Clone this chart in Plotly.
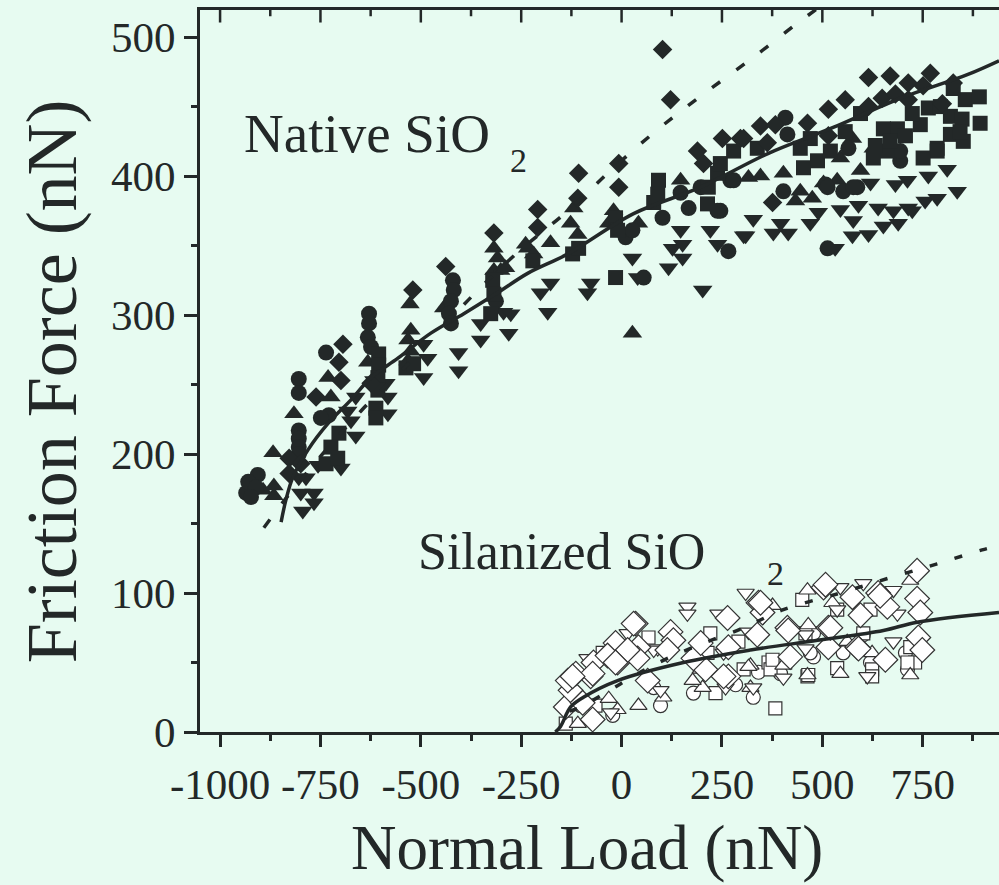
import plotly.graph_objects as go

# ---------------- data (Normal Load nN, Friction Force nN) ----------------
nat_circle_x = [-935,-906,-930,-911,-923,-804,-804,-804,-804,-804,-804,-736,-729,-749,-629,-629,-632,-624,
                -420,-418,-425,-430,-425,-313,10,27,55,102,167,147,197,246,271,266,
                408,413,694,587,552,403,508,565,694,513,577,513,279,239]
nat_circle_y = [172,185,180,176,169,254,244,217,211,205,200,273,228,226,301,294,284,277,
                325,318,310,301,294,310,356,361,327,370,377,388,392,375,397,346,
                442,430,411,392,389,389,394,420,418,348,392,392,397,375]

nat_square_x = [-704,-724,-736,-707,-605,-605,-607,-607,-612,-612,-537,-518,-321,-318,-326,-221,-122,-107,
                -15,-15,-10,92,90,80,214,216,239,246,279,
                856,891,893,819,848,819,851,786,786,751,744,764,687,652,662,595,470,445,488,453,338,627,
                724,707,669,632,520,557,843,794,826]
nat_square_y = [215,205,193,197,272,264,255,246,233,226,262,265,325,315,301,339,344,348,
                370,327,361,397,387,381,380,392,402,409,418,
                455,457,438,443,441,430,425,420,418,413,437,449,434,434,418,445,427,420,411,406,420,413,
                445,429,425,422,418,432,432,450,463]

nat_tup_x = [-893,-866,-866,-868,-816,-731,-724,-632,-527,-525,-532,-525,-532,-443,-318,-309,-318,-301,
             -234,-177,-239,-219,-289,-119,-127,-109,-20,-32,42,147,27,316,
             403,433,475,503,545,575,627,445,537,677,346,595,644]
nat_tup_y = [174,170,177,201,229,255,241,266,308,289,282,274,267,305,348,341,332,332,
             348,352,351,344,334,377,366,358,375,366,366,397,287,399,
             402,382,384,395,413,427,420,389,397,430,400,404,418]

nat_tdn_x = [-804,-786,-799,-766,-794,-766,-682,-662,-662,-674,-699,-756,-587,-582,-582,-617,-493,-483,-493,
             -406,-406,-351,-351,-294,-276,-281,-202,-177,-184,-85,-77,27,40,117,127,147,152,152,
             202,221,239,304,328,378,415,396,309,470,490,545,577,575,615,590,639,652,689,677,714,724,
             756,786,836,811,764,712,682,620,532]
nat_tdn_y = [183,183,172,172,159,165,231,241,213,224,190,192,251,241,229,253,279,269,255,
             273,260,294,282,302,301,287,316,323,302,316,323,341,327,334,348,361,351,341,
             318,361,351,357,369,359,359,366,357,366,374,376,368,357,358,379,377,364,366,375,377,375,
             382,384,389,405,400,397,394,395,348]

nat_dia_x = [-828,-799,-828,-694,-704,-699,-761,-624,-520,-438,-318,-209,-209,-107,-109,-7,-7,189,204,251,296,
             102,122,615,669,714,769,751,826,557,515,463,346,383,304,615,649,682,714,799,363,376,515]
nat_dia_y = [197,193,186,279,266,253,241,251,318,335,359,376,363,402,384,409,392,418,409,427,427,
             491,455,471,472,467,474,465,467,455,448,438,436,437,427,450,456,459,455,452,424,381,429]

sil_dia_x = [-139,-127,-134,-72,-77,-70,-15,-10,35,42,40,65,122,129,114,209,264,266,266,341,351,338,413,420,
             503,515,515,575,595,587,639,662,657,736,744,739,749,254,179,-35,15,-114,-97,
             736,508,644,590,520,415,30,346,-72,-122,-15,197]
sil_dia_y = [18,30,37,9,40,50,64,50,78,61,53,37,72,66,59,45,82,61,40,93,86,70,75,54,
             104,75,61,97,84,61,100,90,52,96,86,68,59,40,53,55,59,42,21,
             116,106,98,60,75,73,78,93,42,40,50,64]

sil_square_x = [67,-47,221,291,366,371,463,537,624,719,731,383,234,304,-65,-139,602,620,537,450,214,458,624,712,465,376]
sil_square_y = [68,57,71,65,50,45,40,46,45,61,50,17,28,45,19,6,71,88,88,95,57,71,40,50,41,52]

sil_circle_x = [179,284,328,97,-22,478,552,620,707,712,602,341,396,478,-102,80,470]
sil_circle_y = [28,34,25,19,12,54,57,50,57,45,70,43,42,71,19,32,57]

sil_tup_x = [463,719,376,525,463,545,624,719,321,321,202,42,-10,104,-32,197,403,562,465,177,316,-109]
sil_tup_y = [102,109,91,93,41,42,57,41,48,32,32,19,16,25,24,45,48,65,77,37,47,6]

sil_tdn_x = [309,164,164,241,545,677,687,612,403,97,-27,-85,15,90,316,458,677,537,353,254,602,458,259,328,80]
sil_tdn_y = [100,90,85,85,104,102,85,40,39,30,14,53,71,60,72,60,65,88,83,57,107,70,32,32,59]

# fit curves
nat_fit_x = [-848,-836,-819,-781,-731,-674,-624,-557,-475,-393,-309,-234,-134,30,197,363,527,694,861,940]
nat_fit_y = [151,167,183,203,222,239,255,269,287,301,316,330,344,373,392,416,435,456,473,483]

nat_lin_x = [-891,-806,-649,-500,-371,-259,-134,-20,92,204,326,438,490]
nat_lin_y = [147,179,231,274,314,345,375,406,434,459,485,510,521]

sil_fit_x = [-165,-152,-127,-95,-10,154,321,488,652,736,940]
sil_fit_y = [0,4,18,25,37,50,59,66,73,79,86]

sil_lin_x = [-130,-102,72,179,304,403,545,669,786,898,940]
sil_lin_y = [15,18,47,61,75,88,100,111,121,131,134]

x_ticks = [-1000, -750, -500, -250, 0, 250, 500, 750]
x_minor = [-875, -625, -375, -125, 125, 375, 625, 875]
y_ticks = [0, 100, 200, 300, 400, 500]
y_minor = [50, 150, 250, 350, 450]

# ---------------- styling ----------------
FONT = "Liberation Serif"
INK = "#232828"
BG = "#e7fbf1"
XR = [-1050, 940]
YR = [0, 519.5]
TOP_MAJOR_LEN = 9.0   # inward tick length on the top frame, in y-units (~12 px)
TOP_MINOR_LEN = 4.5

fig = go.Figure()

def filled(x, y, sym, size):
    fig.add_trace(go.Scatter(x=x, y=y, mode="markers",
                             marker=dict(symbol=sym, size=size, color=INK, line=dict(width=0)),
                             showlegend=False, hoverinfo="skip"))

def hollow(x, y, sym, size):
    fig.add_trace(go.Scatter(x=x, y=y, mode="markers",
                             marker=dict(symbol=sym, size=size, color="white",
                                         line=dict(width=1.2, color="#333333")),
                             showlegend=False, hoverinfo="skip"))

filled(nat_tdn_x, nat_tdn_y, "triangle-down", 17)
filled(nat_tup_x, nat_tup_y, "triangle-up", 17)
filled(nat_circle_x, nat_circle_y, "circle", 16)
filled(nat_square_x, nat_square_y, "square", 15)
filled(nat_dia_x, nat_dia_y, "diamond", 15)

hollow(sil_circle_x, sil_circle_y, "circle", 14)
hollow(sil_square_x, sil_square_y, "square", 13)
hollow(sil_tup_x, sil_tup_y, "triangle-up", 15)
hollow(sil_tdn_x, sil_tdn_y, "triangle-down", 15)
hollow(sil_dia_x, sil_dia_y, "diamond", 19)

def line(x, y, dash, width):
    fig.add_trace(go.Scatter(x=x, y=y, mode="lines", line=dict(color=INK, width=width, dash=dash, shape="spline"),
                             showlegend=False, hoverinfo="skip"))

line(nat_fit_x, nat_fit_y, "solid", 3.5)
line(nat_lin_x, nat_lin_y, "10px,20px", 3.5)
line(sil_fit_x, sil_fit_y, "solid", 3.5)
line(sil_lin_x, sil_lin_y, "8px,18px", 3.5)

# inward ticks along the top frame
def top_ticks(vals, length):
    tx, ty = [], []
    for v in vals:
        tx += [v, v, None]
        ty += [YR[1], YR[1] - length, None]
    fig.add_trace(go.Scatter(x=tx, y=ty, mode="lines", line=dict(color=INK, width=2.5),
                             showlegend=False, hoverinfo="skip"))

top_ticks(x_ticks, TOP_MAJOR_LEN)
top_ticks(x_minor, TOP_MINOR_LEN)

fig.update_layout(
    width=999, height=885,
    margin=dict(l=200, r=0, t=10, b=153),
    paper_bgcolor=BG, plot_bgcolor=BG,
    font=dict(family=FONT, color=INK),
    xaxis=dict(range=XR, tickvals=x_ticks, ticktext=[str(v) for v in x_ticks],
               ticks="outside", ticklen=12, tickwidth=2.5, tickcolor=INK,
               showline=True, linewidth=3, linecolor=INK, showgrid=False, zeroline=False,
               mirror=True,
               tickfont=dict(family=FONT, size=43, color=INK),
               minor=dict(tickvals=x_minor, ticks="outside", ticklen=6, tickwidth=2.5, tickcolor=INK)),
    yaxis=dict(range=YR, tickvals=y_ticks, ticktext=[str(v) for v in y_ticks],
               ticks="outside", ticklen=13, tickwidth=2.5, tickcolor=INK,
               showline=True, linewidth=3, linecolor=INK, showgrid=False, zeroline=False,
               tickfont=dict(family=FONT, size=43, color=INK),
               minor=dict(tickvals=y_minor, ticks="outside", ticklen=6, tickwidth=2.5, tickcolor=INK)),
)

ann = [
    dict(text="Normal Load (nN)", xref="paper", yref="paper", x=0.484, y=-0.161,
         font=dict(size=63), xanchor="center", yanchor="middle"),
    dict(text="Friction Force (nN)", xref="paper", yref="paper", x=-0.185, y=0.486,
         font=dict(size=72), xanchor="center", yanchor="middle", textangle=-90),
    dict(text="Native SiO", xref="x", yref="y", x=-945, y=431, font=dict(size=55),
         xanchor="left", yanchor="middle"),
    dict(text="2", xref="x", yref="y", x=-283, y=411, font=dict(size=34),
         xanchor="left", yanchor="middle"),
    dict(text="Silanized SiO", xref="x", yref="y", x=-512, y=130, font=dict(size=52),
         xanchor="left", yanchor="middle"),
    dict(text="2", xref="x", yref="y", x=356, y=114, font=dict(size=34),
         xanchor="left", yanchor="middle"),
]
for a in ann:
    a["showarrow"] = False
    a["font"]["family"] = FONT
    a["font"]["color"] = INK
fig.update_layout(annotations=ann)

fig.write_html("out.html", config={"displayModeBar": False},
               post_script="document.body.style.margin='0';document.body.style.padding='0';"
                           "document.body.style.background='" + BG + "';")
